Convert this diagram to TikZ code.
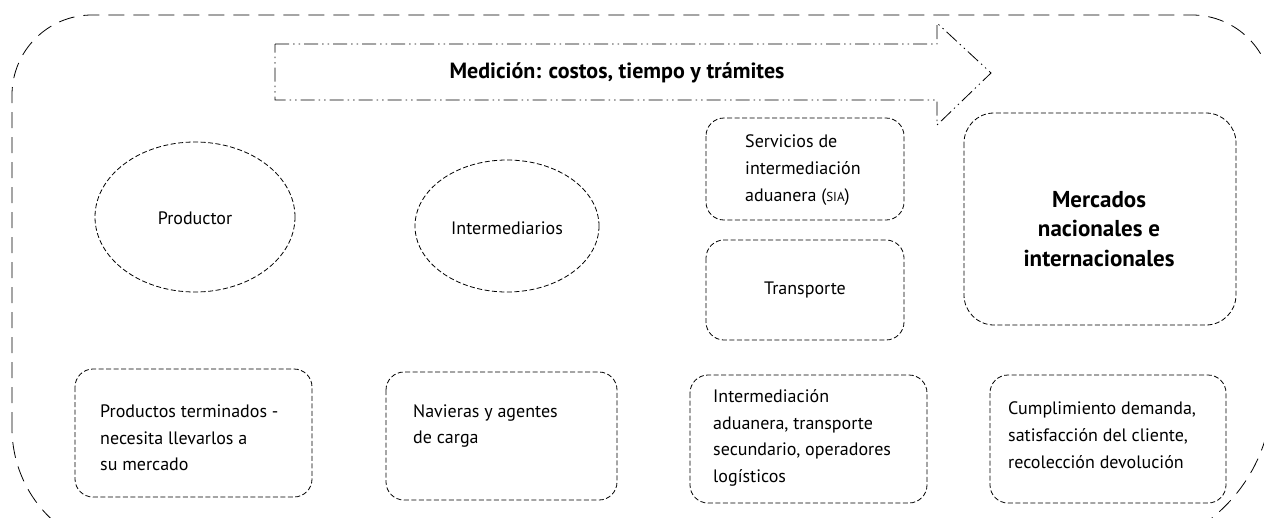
\documentclass[tikz,border=0pt]{standalone}
\usepackage{fontspec}
\setmainfont{PT Sans}

\begin{document}
\begin{tikzpicture}[x = 1pt, y = -1pt,
		borde/.style = {dash pattern = on 16pt off 9pt, line width = 0.8pt},
		caja/.style = {dash pattern = on 5pt off 2.5pt, line width = 0.8pt},
		flecha/.style = {dash pattern = on 14pt off 4pt on 1.5pt off 4pt on 1.5pt off 4pt, line width = 0.8pt},
		texto/.style = {font = \fontsize{18}{26.7}\selectfont, align = left, inner sep = 0pt},
		negrita/.style = {font = \fontsize{23}{29.5}\selectfont\bfseries, align = center, inner sep = 0pt}]
	\useasboundingbox (0, 0) rectangle (1264, 517);
	\draw[borde] (12, 428) -- (12, 95) arc[start angle = 180, end angle = 270, radius = 80] -- (1192, 15) arc[start angle = 270, end angle = 360, radius = 80] -- (1272, 393) arc[start angle = 0, end angle = 90, radius = 160] -- (137, 553) arc[start angle = 90, end angle = 180, radius = 125] -- cycle;
	\draw[flecha] (275, 44) -- (937, 44) -- (937, 23) -- (991, 73) -- (937, 125) -- (937, 100) -- (275, 100) -- cycle;
	\node[negrita, font = \fontsize{22}{22}\selectfont\bfseries] (medicion) at (617, 73) {Medición: costos, tiempo y trámites};
	\draw[caja] (195, 217) ellipse [x radius = 100, y radius = 75];
	\draw[caja] (507, 226) ellipse [x radius = 92, y radius = 66];
	\node[texto] (productor) at (195, 218) {Productor};
	\node[texto] (intermediarios) at (507, 228) {Intermediarios};
	\foreach \xa/\ya/\xb/\yb in {706/118/904/220, 706/240/904/340, 75/369/312/497, 386/372/617/500, 690/375/927/503, 990/375/1226/503}
		\draw[caja, rounded corners = 18pt] (\xa, \ya) rectangle (\xb, \yb);
	\draw[caja, rounded corners = 30pt] (964, 113) rectangle (1236, 325);
	\node[texto, anchor = west] (sia) at (745, 170) {Servicios de\\intermediación\\aduanera ({\fontsize{13}{13}\selectfont SIA})};
	\node[texto] (transporte) at (805, 290) {Transporte};
	\node[negrita] (mercados) at (1099, 229) {Mercados\\nacionales e\\internacionales};
	\node[texto, anchor = west] (productos) at (100, 438) {Productos terminados -\\necesita llevarlos a\\su mercado};
	\node[texto, anchor = west] (navieras) at (413, 426) {Navieras y agentes\\de carga};
	\node[texto, anchor = west] (aduana) at (713, 438) {Intermediación\\aduanera, transporte\\secundario, operadores\\logísticos};
	\node[texto, anchor = west] (cumplimiento) at (1008, 435) {Cumplimiento demanda,\\satisfacción del cliente,\\recolección devolución};
\end{tikzpicture}
\end{document}
